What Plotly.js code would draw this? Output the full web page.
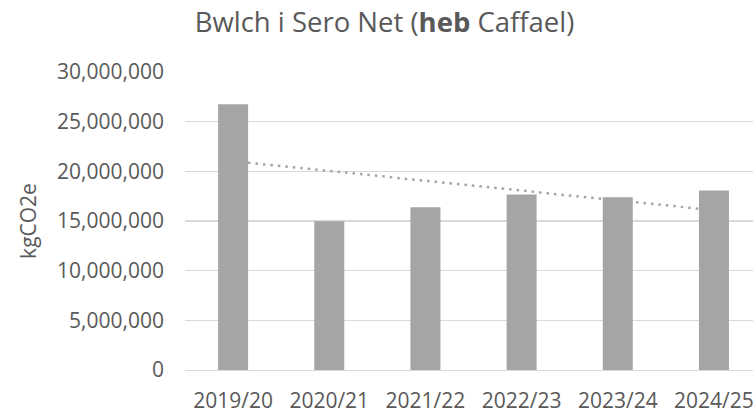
<!DOCTYPE html>
<html>
<head>
<meta charset="utf-8">
<script src="https://cdn.plot.ly/plotly-3.0.1.min.js"></script>
<style>
  html, body { margin: 0; padding: 0; background: #ffffff; overflow: hidden; }
  #chart { width: 753px; height: 414px; }
</style>
</head>
<body>
<div id="chart"></div>
<script>
// Data
const categories = ['2019/20', '2020/21', '2021/22', '2022/23', '2023/24', '2024/25'];
const gapValues = [26750000, 14980000, 16380000, 17660000, 17390000, 18060000];
// Linear trendline end points
const trendCategories = ['2019/20', '2024/25'];
const trendValues = [21030000, 16080000];
const yTickValues = [0, 5000000, 10000000, 15000000, 20000000, 25000000, 30000000];

const textColor = '#595959';
const fontFamily = '"Open Sans", "Noto Sans", sans-serif';

const trendTrace = {
  type: 'scatter',
  mode: 'lines',
  x: trendCategories,
  y: trendValues,
  xaxis: 'x',
  yaxis: 'y',
  line: { color: '#A5A5A5', width: 2.5, dash: '2.5px,5px' },
  hoverinfo: 'skip',
  showlegend: false
};

const barTrace = {
  type: 'bar',
  x: categories,
  y: gapValues,
  xaxis: 'x',
  yaxis: 'y2',
  marker: { color: '#A5A5A5', line: { width: 0 } },
  showlegend: false
};

const layout = {
  width: 753,
  height: 414,
  margin: { l: 185, r: 0, t: 72, b: 44, autoexpand: false },
  paper_bgcolor: '#ffffff',
  plot_bgcolor: '#ffffff',
  font: { family: fontFamily, color: textColor, size: 21 },
  bargap: 0.688,
  showlegend: false,
  title: {
    text: 'Bwlch i Sero Net (<b>heb</b> Caffael)',
    font: { family: fontFamily, size: 27.5, color: textColor },
    x: 0.5106,
    xref: 'container',
    xanchor: 'center',
    y: 0.945,
    yref: 'container',
    yanchor: 'middle'
  },
  xaxis: {
    type: 'category',
    categoryorder: 'array',
    categoryarray: categories,
    range: [-0.5, 5.406],
    showgrid: false,
    showline: true,
    linecolor: '#D9D9D9',
    linewidth: 1.3,
    ticks: '',
    ticklabelstandoff: 11,
    tickfont: { family: fontFamily, size: 21, color: textColor },
    zeroline: false,
    fixedrange: true
  },
  yaxis: {
    range: [0, 30000000],
    tickvals: yTickValues,
    tickformat: ',d',
    showgrid: true,
    gridcolor: '#D9D9D9',
    gridwidth: 1.3,
    showline: false,
    zeroline: false,
    ticks: '',
    ticklabelstandoff: 20,
    tickfont: { family: fontFamily, size: 21, color: textColor },
    title: {
      text: 'kgCO2e',
      font: { family: fontFamily, size: 21, color: textColor },
      standoff: 14
    },
    automargin: false,
    fixedrange: true
  },
  yaxis2: {
    overlaying: 'y',
    range: [0, 30000000],
    visible: false,
    showgrid: false,
    zeroline: false,
    fixedrange: true
  }
};

Plotly.newPlot('chart', [trendTrace, barTrace], layout, { displayModeBar: false, staticPlot: true });
</script>
</body>
</html>
